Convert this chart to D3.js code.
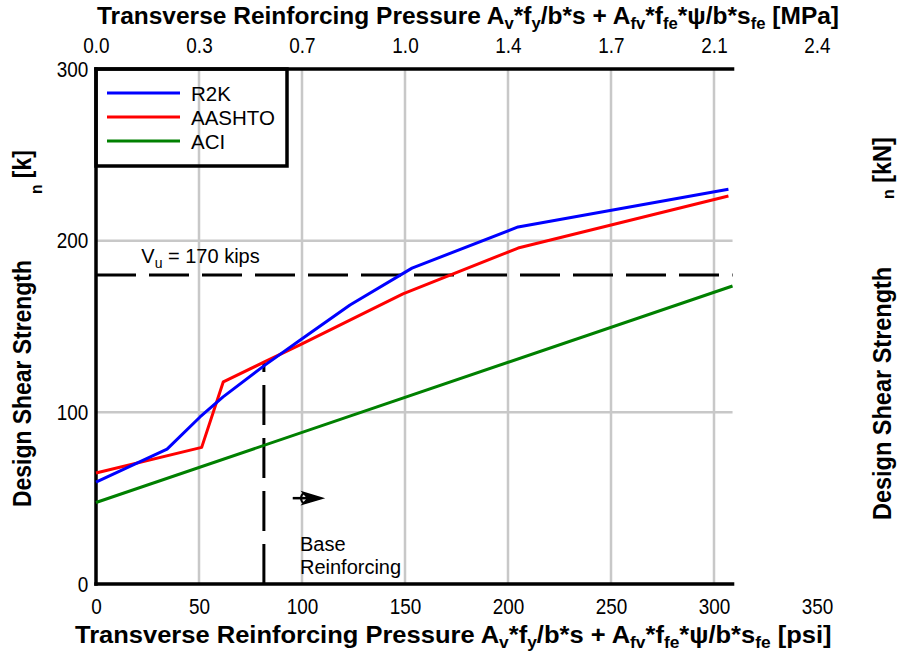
<!DOCTYPE html>
<html><head><meta charset="utf-8">
<script src="https://cdn.jsdelivr.net/npm/d3@7"></script>
<style>body{margin:0;background:#fff} svg{display:block}</style>
</head><body><svg id="c" width="898" height="651"></svg>
<script>
// ---------- data ----------
const psiTicks = [0, 50, 100, 150, 200, 250, 300, 350];
const mpaTickLabels = ["0.0", "0.3", "0.7", "1.0", "1.4", "1.7", "2.1", "2.4"];
const kTicks = [0, 100, 200, 300];
const gridX = [50, 100, 150, 200, 250, 300];
const gridY = [100, 200];
const seriesNames = ["R2K", "AASHTO", "ACI"];
const seriesColors = ["#0000ff", "#ff0000", "#008000"];
const r2kX = [0, 34.5, 50.5, 61.7, 82, 99, 123.3, 153.4, 204.9, 307];
const r2kY = [59.4, 78.6, 97.3, 109, 127.5, 142, 162.5, 184, 208, 230];
const aashtoX = [0, 51.3, 61.8, 82, 99, 149, 204.9, 307];
const aashtoY = [64.7, 79.6, 117.8, 129.5, 139.3, 169, 195.7, 226];
const aciX = [0, 309];
const aciY = [47.5, 173.6];
const vuValue = 180;
const baseReinfPsi = 81.5;
const baseReinfTop = 129;
const xEnd = 309;

// ---------- setup ----------
const FONT = '"Liberation Sans", Arial, Helvetica, sans-serif';
const svg = d3.select("#c").attr("font-family", FONT);
const x = d3.scaleLinear().domain([0, 350]).range([96, 817]);
const y = d3.scaleLinear().domain([0, 300]).range([584, 69]);

// grid
svg.append("g").selectAll("line").data(gridX).join("line")
  .attr("x1", d => x(d)).attr("x2", d => x(d)).attr("y1", y(0)).attr("y2", y(300))
  .attr("stroke", "#c8c8c8").attr("stroke-width", 2.5);
svg.append("g").selectAll("line").data(gridY).join("line")
  .attr("x1", x(0)).attr("x2", x(xEnd)).attr("y1", d => y(d)).attr("y2", d => y(d))
  .attr("stroke", "#c8c8c8").attr("stroke-width", 2.5);

// axes
const tickSX = 0.86;
function styleAxis(g) {
  g.select(".domain").remove();
  g.attr("font-size", 22).attr("font-family", FONT);
  g.selectAll("text").attr("fill", "#000").attr("transform", `scale(${tickSX},1)`);
}
svg.append("g").attr("transform", `translate(0,${y(0)})`)
  .call(d3.axisBottom(x).tickValues(psiTicks).tickSize(0).tickPadding(14)).call(styleAxis);
svg.append("g").attr("transform", `translate(0,${y(300)})`)
  .call(d3.axisTop(x).tickValues(psiTicks).tickFormat((d, i) => mpaTickLabels[i]).tickSize(0).tickPadding(16)).call(styleAxis);
svg.append("g").attr("transform", `translate(${x(0)},0)`)
  .call(d3.axisLeft(y).tickValues(kTicks).tickSize(0).tickPadding(9)).call(styleAxis);

// frame lines
const frame = svg.append("g").attr("stroke", "#000").attr("stroke-width", 3.5).attr("stroke-linecap", "square").attr("fill", "none");
frame.append("line").attr("x1", x(0)).attr("x2", x(0)).attr("y1", y(0)).attr("y2", y(300));
frame.append("line").attr("x1", x(0)).attr("x2", x(xEnd)).attr("y1", y(300)).attr("y2", y(300));
frame.append("line").attr("x1", x(0)).attr("x2", x(xEnd)).attr("y1", y(0)).attr("y2", y(0));

// reference lines
svg.append("line").attr("x1", x(0)).attr("x2", x(xEnd)).attr("y1", y(vuValue)).attr("y2", y(vuValue))
  .attr("stroke", "#000").attr("stroke-width", 3).attr("stroke-dasharray", "40,13");
svg.append("line").attr("x1", x(baseReinfPsi)).attr("x2", x(baseReinfPsi)).attr("y1", y(0)).attr("y2", y(baseReinfTop))
  .attr("stroke", "#000").attr("stroke-width", 3).attr("stroke-dasharray", "40,13");

// series
const series = [
  { name: seriesNames[0], color: seriesColors[0], pts: r2kX.map((v, i) => [v, r2kY[i]]) },
  { name: seriesNames[1], color: seriesColors[1], pts: aashtoX.map((v, i) => [v, aashtoY[i]]) },
  { name: seriesNames[2], color: seriesColors[2], pts: aciX.map((v, i) => [v, aciY[i]]) }
];
const line = d3.line().x(d => x(d[0])).y(d => y(d[1]));
svg.append("g").selectAll("path").data(series.slice().reverse()).join("path")
  .attr("d", d => line(d.pts)).attr("fill", "none").attr("stroke", d => d.color)
  .attr("stroke-width", 3).attr("stroke-linejoin", "round");

// Vu label
const vu = svg.append("text").attr("x", x(22)).attr("y", y(187)).attr("font-size", 20).attr("fill", "#000");
vu.append("tspan").text("V");
vu.append("tspan").attr("font-size", 14).attr("dy", 5).text("u");
vu.append("tspan").attr("dy", -5).text(" = 170 kips");

// base reinforcing annotation
const ay = y(50), ax0 = x(95.5), ax1 = x(110);
const ann = svg.append("g").attr("stroke", "#000");
ann.append("line").attr("x1", ax0).attr("x2", ax1 - 6).attr("y1", ay).attr("y2", ay).attr("stroke-width", 2.5);
ann.append("path").attr("d", `M${ax0 + 11},${ay - 5} A6,6 0 0 0 ${ax0 + 11},${ay + 5}`).attr("fill", "none").attr("stroke-width", 2);
ann.append("path").attr("d", `M${ax1},${ay} L${ax0 + 10},${ay - 6} L${ax0 + 15},${ay} L${ax0 + 10},${ay + 6} Z`).attr("fill", "#000").attr("stroke-width", 1.5);
const bt = svg.append("text").attr("font-size", 20).attr("fill", "#000");
bt.append("tspan").attr("x", x(99)).attr("y", y(19.2)).text("Base");
bt.append("tspan").attr("x", x(99)).attr("y", y(5.8)).text("Reinforcing");

// legend
const lg = svg.append("g");
lg.append("rect").attr("x", x(0)).attr("y", y(300)).attr("width", 191).attr("height", 97)
  .attr("fill", "none").attr("stroke", "#000").attr("stroke-width", 3.5);
series.forEach((s, i) => {
  const ly = 93 + i * 24;
  lg.append("line").attr("x1", 107).attr("x2", 180).attr("y1", ly).attr("y2", ly).attr("stroke", s.color).attr("stroke-width", 3);
  lg.append("text").attr("x", 191).attr("y", ly + 8).attr("font-size", 20.5).attr("fill", "#000").text(s.name);
});

// titles
function buildTitle(parts, size) {
  const t = svg.append("text").attr("font-size", size).attr("font-weight", "bold").attr("fill", "#000").attr("x", 0).attr("y", 0);
  parts.forEach(p => {
    const ts = t.append("tspan").text(p.t);
    if (p.sub) ts.attr("font-size", size * 0.68).attr("dy", p.dy || 5);
    if (p.back) ts.attr("dy", -p.back);
    if (p.dx) ts.attr("dx", p.dx);
  });
  return t;
}
function fitH(t, left, right, base) {
  const w = t.node().getBBox().width;
  t.attr("transform", `translate(${left},${base}) scale(${(right - left) / w},1)`);
}
function titleParts(unit) {
  return [
    { t: "Transverse Reinforcing Pressure A" }, { t: "v", sub: true }, { t: "*f", back: 5 }, { t: "y", sub: true },
    { t: "/b*s + A", back: 5 }, { t: "fv", sub: true }, { t: "*f", back: 5 }, { t: "fe", sub: true },
    { t: "*ψ/b*s", back: 5 }, { t: "fe", sub: true }, { t: " [" + unit + "]", back: 5 }
  ];
}
fitH(buildTitle(titleParts("MPa"), 24), 97, 839, 24);
fitH(buildTitle(titleParts("psi"), 24), 75, 832, 643);

function vTitle(unit, bx, startY, len, ndy) {
  const t = buildTitle([
    { t: "Design Shear Strength" }, { t: "n", sub: true, dy: ndy, dx: 72 }, { t: " [" + unit + "]", back: ndy }
  ], 25);
  const w = t.node().getBBox().width;
  t.attr("transform", `translate(${bx},${startY}) rotate(-90) scale(${len / w},1)`);
}
vTitle("k", 31, 507, 357, 11);
vTitle("kN", 891, 520, 383, 3);
</script></body></html>
